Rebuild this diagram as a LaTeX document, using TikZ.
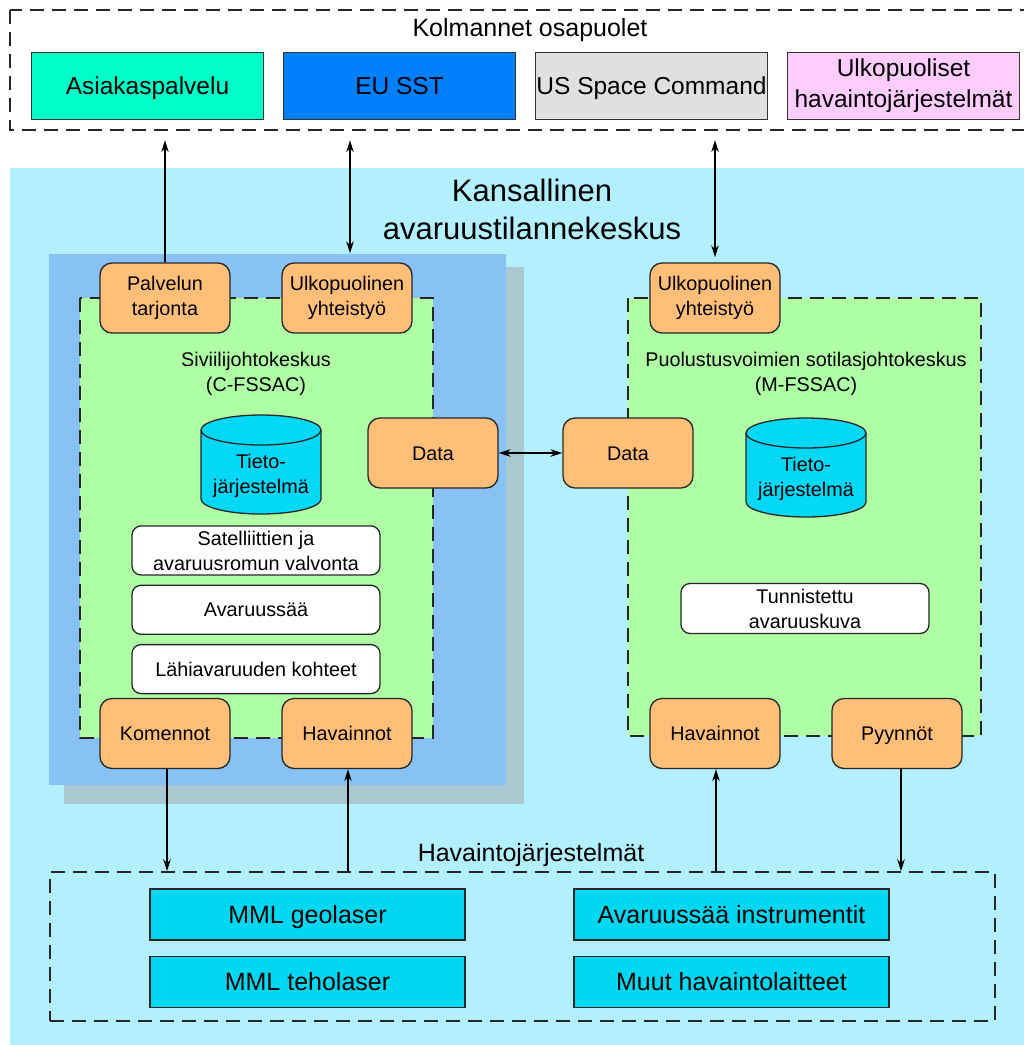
\documentclass[tikz,border=0pt]{standalone}
\usepackage{fontspec}
\setmainfont{Liberation Sans}
\usepackage{xcolor}
\usetikzlibrary{arrows.meta,positioning}

\definecolor{bgcyan}{HTML}{B3F0FF}
\definecolor{civblue}{HTML}{88C2F5}
\definecolor{shadowgray}{HTML}{AAC8D0}
\definecolor{centergreen}{HTML}{AFFFA5}
\definecolor{portorange}{HTML}{FFBF78}
\definecolor{dbcyan}{HTML}{00D8F5}
\definecolor{sensorcyan}{HTML}{00D8F2}
\definecolor{asiakasgreen}{HTML}{00FFC8}
\definecolor{eublue}{HTML}{0080FF}
\definecolor{usgray}{HTML}{E0E0E0}
\definecolor{extpink}{HTML}{FFCCFF}

\begin{document}
\begin{tikzpicture}[x=1pt, y=-1pt,
    party/.style={draw=black!80, line width=1.3pt, minimum width=232pt, minimum height=67pt,
        inner sep=1pt, align=center, font=\fontsize{24.5}{31}\selectfont},
    port/.style={draw=black!85, line width=1.3pt, fill=portorange, rounded corners=12pt,
        minimum width=130pt, minimum height=70pt, inner sep=1pt, align=center,
        font=\fontsize{19.8}{25}\selectfont},
    task/.style={draw=black!85, line width=1.3pt, fill=white, rounded corners=9pt,
        minimum width=248pt, minimum height=49pt, inner sep=1pt, align=center,
        font=\fontsize{19.8}{25}\selectfont},
    sensor/.style={draw=black!85, line width=1.2pt, fill=sensorcyan, minimum width=315pt,
        minimum height=51pt, inner sep=1pt, font=\fontsize{25}{31}\selectfont, onelinebig},
    onelinebig/.style={text height=17.6pt, text depth=0pt},
    onelinesmall/.style={text height=14pt, text depth=0pt},
    heading/.style={align=center, inner sep=0pt, font=\fontsize{25}{31}\selectfont},
    subheading/.style={align=center, inner sep=0pt, font=\fontsize{19.8}{25}\selectfont},
    dashbox/.style={draw=black!85, line width=1.5pt, dash pattern=on 14pt off 8pt},
    arr/.style={-{Stealth[length=12pt,width=7.5pt]}, line width=1.6pt},
    dblarr/.style={{Stealth[length=12pt,width=7.5pt]}-{Stealth[length=12pt,width=7.5pt]}, line width=1.6pt}]

    \useasboundingbox (0,0) rectangle (1024,1045);
    \clip (0,0) rectangle (1024,1045);
    \fill[white] (0,0) rectangle (1024,1045);

    % Third parties
    \draw[dashbox] (10,10) rectangle (1040,130);
    \node[heading] (third) at (530,30) {Kolmannet osapuolet};
    \node[party, fill=asiakasgreen, onelinebig] (asiakas) at (147.5,86) {Asiakaspalvelu};
    \node[party, fill=eublue, onelinebig] (eusst) at (399.5,86) {EU SST};
    \node[party, fill=usgray, onelinebig] (ussc) at (651.5,86) {US Space Command};
    \node[party, fill=extpink] (ulkohav) at (903.5,86) {Ulkopuoliset\\havaintojärjestelmät};

    % National centre background
    \fill[bgcyan] (10,168) rectangle (1030,1050);
    \node[align=center, inner sep=0pt, font=\fontsize{31}{38}\selectfont] (national) at (532,209)
        {Kansallinen\\avaruustilannekeskus};

    % Civil centre
    \fill[shadowgray] (64,267) rectangle (524,804);
    \fill[civblue] (49,254) rectangle (506,785);
    \fill[centergreen] (80,298) rectangle (433,738);
    \draw[dashbox] (80,298) rectangle (433,738);
    \node[subheading] (civil) at (256,374) {Siviilijohtokeskus\\(C-FSSAC)};

    % Military centre
    \fill[centergreen] (628,298) rectangle (981,736);
    \draw[dashbox] (628,298) rectangle (981,736);
    \node[subheading] (military) at (806,374) {Puolustusvoimien sotilasjohtokeskus\\(M-FSSAC)};

    % Databases
    \foreach \cx/\ty/\by in {261/415/514, 806/418/517}{
        \filldraw[fill=dbcyan, draw=black!85, line width=1.3pt]
            (\cx-60,\ty+15) -- (\cx-60,\by-15)
            arc[start angle=180, end angle=360, x radius=60pt, y radius=15pt]
            -- (\cx+60,\ty+15)
            arc[start angle=0, end angle=180, x radius=60pt, y radius=15pt] -- cycle;
        \draw[black!85, line width=1.3pt] (\cx-60,\ty+15)
            arc[start angle=180, end angle=360, x radius=60pt, y radius=15pt];
    }
    \node[subheading] (dbL) at (261,476) {Tieto-\\järjestelmä};
    \node[subheading] (dbR) at (806,479) {Tieto-\\järjestelmä};

    % Tasks
    \node[task] (satel) at (256,550.5) {Satelliittien ja\\avaruusromun valvonta};
    \node[task, onelinesmall, below=9pt of satel] (avsaa) {Avaruussää};
    \node[task, onelinesmall, below=9pt of avsaa] (lahi) {Lähiavaruuden kohteet};
    \node[task, minimum height=50pt] (tunnist) at (805,608.5) {Tunnistettu\\avaruuskuva};

    % Interfaces
    \node[port] (palvelu) at (165,298) {Palvelun\\tarjonta};
    \node[port] (ulkoL) at (347,298) {Ulkopuolinen\\yhteistyö};
    \node[port] (ulkoR) at (715,298) {Ulkopuolinen\\yhteistyö};
    \node[port, onelinesmall] (dataL) at (433,453) {Data};
    \node[port, onelinesmall] (dataR) at (628,453) {Data};
    \node[port, onelinesmall] (komennot) at (165,733.5) {Komennot};
    \node[port, onelinesmall] (havL) at (347,733.5) {Havainnot};
    \node[port, onelinesmall] (havR) at (715,733.5) {Havainnot};
    \node[port, onelinesmall] (pyynnot) at (897,733.5) {Pyynnöt};

    % Observation systems
    \node[dashbox, minimum width=945pt, minimum height=149pt] (havsys) at (522.5,946.5) {};
    \node[heading] (havtitle) at (531,855) {Havaintojärjestelmät};
    \node[sensor] (geolaser) at (307.5,914.5) {MML geolaser};
    \node[sensor, below=15pt of geolaser] (teholaser) {MML teholaser};
    \node[sensor] (avinstr) at (731.5,914.5) {Avaruussää instrumentit};
    \node[sensor, below=15pt of avinstr] (muut) {Muut havaintolaitteet};

    % Connections
    \draw[arr, shorten >=20pt] (palvelu.north) -- (palvelu.north |- asiakas.south);
    \draw[dblarr, shorten <=20pt, shorten >=9pt] ([xshift=3pt]ulkoL.north |- eusst.south) -- ([xshift=3pt]ulkoL.north);
    \draw[dblarr, shorten <=20pt, shorten >=5pt] (ulkoR.north |- ussc.south) -- (ulkoR.north);
    \draw[dblarr] (dataL) -- (dataR);
    \draw[arr] ([xshift=2pt]komennot.south) -- ([xshift=2pt]komennot.south |- havsys.north);
    \draw[arr] ([xshift=1pt]havL.south |- havsys.north) -- ([xshift=1pt]havL.south);
    \draw[arr] ([xshift=1pt]havR.south |- havsys.north) -- ([xshift=1pt]havR.south);
    \draw[arr] ([xshift=4pt]pyynnot.south) -- ([xshift=4pt]pyynnot.south |- havsys.north);
\end{tikzpicture}
\end{document}
